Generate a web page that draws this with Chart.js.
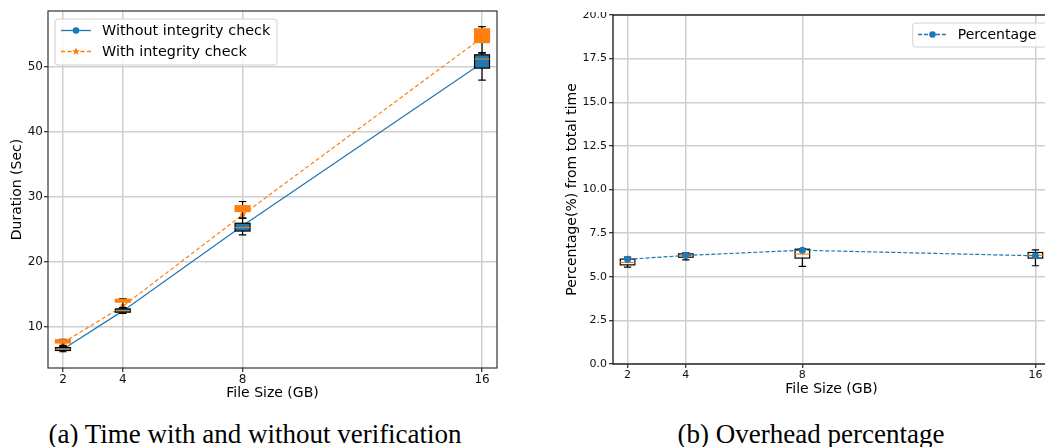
<!DOCTYPE html>
<html><head><meta charset="utf-8">
<script src="https://cdn.jsdelivr.net/npm/chart.js@4.4.1/dist/chart.umd.min.js"></script>
<style>
html,body{margin:0;padding:0;background:#fff;}
#wrap{position:relative;width:1045px;height:447px;overflow:hidden;background:#fff;}
#c1box{position:absolute;left:0;top:0;width:520px;height:410px;}
#c2box{position:absolute;left:520px;top:12px;width:525px;height:398px;overflow:hidden;}
#c2inner{position:absolute;left:0;top:-12px;width:545px;height:410px;}
.cap{position:absolute;top:419px;font-family:"Liberation Serif",serif;font-size:27px;color:#000;white-space:nowrap;transform:translateX(-50%);line-height:30px;}
</style></head><body>
<div id="wrap">
  <div id="c1box"><canvas id="c1" width="520" height="410"></canvas></div>
  <div id="c2box"><div id="c2inner"><canvas id="c2" width="545" height="410"></canvas></div></div>
  <div class="cap" style="left:255px">(a) Time with and without verification</div>
  <div class="cap" style="left:811px">(b) Overhead percentage</div>
</div>
<script>
// ---------- data ----------
const fileSizes = [2, 4, 8, 16];
const xTickValues = [2, 4, 8, 16];
const leftYTicks = [10, 20, 30, 40, 50];
const rightYTicks = [0, 2.5, 5, 7.5, 10, 12.5, 15, 17.5, 20];

const seriesLabels = ['Without integrity check', 'With integrity check'];
const withoutMean = [6.5, 12.4, 25.5, 50.6];
const withMean = [7.5, 13.1, 27.2, 54.5];

const withoutLow  = [6.1, 12.0, 24.1, 47.95];
const withoutQ1   = [6.3, 12.2, 24.7, 49.8];
const withoutMed  = [6.5, 12.45, 25.25, 51.2];
const withoutQ3   = [6.75, 12.7, 25.9, 51.85];
const withoutHigh = [6.9, 12.9, 26.7, 52.1];

const withLow  = [7.1, 12.9, 26.7, 52.2];
const withQ1   = [7.45, 13.75, 27.7, 53.74];
const withMed  = [7.7, 14.0, 28.1, 54.8];
const withQ3   = [7.95, 14.2, 28.6, 55.85];
const withHigh = [8.0, 14.3, 29.25, 56.2];

const pctLabel = 'Percentage';
const pctMean = [6.0, 6.22, 6.52, 6.2];
const pctLow  = [5.55, 5.97, 5.59, 5.63];
const pctQ1   = [5.68, 6.12, 6.07, 6.07];
const pctMed  = [5.82, 6.2, 6.3, 6.23];
const pctQ3   = [6.01, 6.31, 6.58, 6.39];
const pctHigh = [6.12, 6.37, 6.62, 6.54];

// ---------- styling ----------
const BLUE = '#1f77b4', ORANGE = '#ff7f0e';
const GRID = '#cfcfcf';
const FONT = "'DejaVu Sans', sans-serif";
const toPts = ys => fileSizes.map((x, i) => ({x: x, y: ys[i]}));

function drawBoxes(chart, boxes) {
  const ctx = chart.ctx, xs = chart.scales.x, ys = chart.scales.y;
  ctx.save();
  boxes.forEach(b => {
    fileSizes.forEach((xv, i) => {
      const xc = xs.getPixelForValue(xv);
      const hw = (xs.getPixelForValue(xv + b.width / 2) - xs.getPixelForValue(xv - b.width / 2)) / 2;
      const yl = ys.getPixelForValue(b.low[i]), y1 = ys.getPixelForValue(b.q1[i]);
      const ym = ys.getPixelForValue(b.med[i]), y3 = ys.getPixelForValue(b.q3[i]);
      const yh = ys.getPixelForValue(b.high[i]);
      ctx.strokeStyle = '#000'; ctx.lineWidth = 1.2; ctx.setLineDash([]);
      ctx.beginPath();
      ctx.moveTo(xc, y3); ctx.lineTo(xc, yh);
      ctx.moveTo(xc, y1); ctx.lineTo(xc, yl);
      ctx.moveTo(xc - hw / 2, yh); ctx.lineTo(xc + hw / 2, yh);
      ctx.moveTo(xc - hw / 2, yl); ctx.lineTo(xc + hw / 2, yl);
      ctx.stroke();
      if (b.fill) { ctx.fillStyle = b.fill; ctx.fillRect(xc - hw, y3, 2 * hw, y1 - y3); }
      ctx.strokeStyle = b.edge; ctx.lineWidth = 1.2;
      ctx.strokeRect(xc - hw, y3, 2 * hw, y1 - y3);
      ctx.strokeStyle = b.median; ctx.lineWidth = 1.2;
      ctx.beginPath(); ctx.moveTo(xc - hw, ym); ctx.lineTo(xc + hw, ym); ctx.stroke();
    });
  });
  ctx.restore();
}

function star(ctx, x, y, r) {
  ctx.beginPath();
  for (let k = 0; k < 10; k++) {
    const rr = k % 2 === 0 ? r : r * 0.42;
    const a = -Math.PI / 2 + k * Math.PI / 5;
    const px = x + rr * Math.cos(a), py = y + rr * Math.sin(a);
    if (k === 0) ctx.moveTo(px, py); else ctx.lineTo(px, py);
  }
  ctx.closePath(); ctx.fill();
}

function roundRect(ctx, x, y, w, h, r) {
  ctx.beginPath();
  ctx.moveTo(x + r, y); ctx.lineTo(x + w - r, y); ctx.arcTo(x + w, y, x + w, y + r, r);
  ctx.lineTo(x + w, y + h - r); ctx.arcTo(x + w, y + h, x + w - r, y + h, r);
  ctx.lineTo(x + r, y + h); ctx.arcTo(x, y + h, x, y + h - r, r);
  ctx.lineTo(x, y + r); ctx.arcTo(x, y, x + r, y, r); ctx.closePath();
}

function drawLegend(chart, L) {
  const ctx = chart.ctx;
  ctx.save();
  roundRect(ctx, L.x, L.y, L.w, L.h, 3);
  ctx.fillStyle = 'rgba(255,255,255,0.85)'; ctx.fill();
  ctx.strokeStyle = '#d0d0d0'; ctx.lineWidth = 1; ctx.stroke();
  chart.data.datasets.forEach((ds, i) => {
    const yy = L.rows[i];
    ctx.strokeStyle = ds.borderColor; ctx.lineWidth = 1.3;
    ctx.setLineDash(ds.borderDash || []);
    ctx.beginPath(); ctx.moveTo(L.sx0, yy); ctx.lineTo(L.sx1, yy); ctx.stroke();
    ctx.setLineDash([]);
    ctx.fillStyle = ds.borderColor;
    const mx = (L.sx0 + L.sx1) / 2;
    if (ds.legendMarker === 'star') star(ctx, mx, yy, 4.2);
    else { ctx.beginPath(); ctx.arc(mx, yy, 3.3, 0, Math.PI * 2); ctx.fill(); }
    ctx.fillStyle = '#000'; ctx.font = L.font; ctx.textBaseline = 'middle'; ctx.textAlign = 'left';
    ctx.fillText(ds.label, L.tx, yy + 0.5);
  });
  ctx.restore();
}

function framePlugin(color) {
  return {
    id: 'frame',
    afterDraw(chart) {
      const a = chart.chartArea, ctx = chart.ctx;
      ctx.save(); ctx.strokeStyle = color; ctx.lineWidth = 1.2;
      ctx.strokeRect(a.left, a.top, a.right - a.left, a.bottom - a.top);
      ctx.restore();
    }
  };
}

function xScale(titlePadBottom, tickSize, height) {
  return {
    type: 'linear', min: 1.5, max: 16.5,
    afterBuildTicks: s => { s.ticks = xTickValues.map(v => ({value: v})); },
    afterFit: s => { s.height = height; },
    ticks: {autoSkip: false, color: '#111', font: {family: FONT, size: tickSize}, padding: 1,
            callback: v => String(v)},
    grid: {color: GRID, lineWidth: 1.5, tickColor: '#000', tickLength: 4, tickWidth: 1},
    border: {display: false},
    title: {display: true, text: 'File Size (GB)', color: '#000',
            font: {family: FONT, size: 14}, padding: {top: 0, bottom: titlePadBottom}}
  };
}

// ---------- left chart ----------
new Chart(document.getElementById('c1'), {
  type: 'line',
  data: {
    datasets: [
      {label: seriesLabels[0], data: toPts(withoutMean), borderColor: BLUE, backgroundColor: BLUE,
       borderWidth: 1.2, pointRadius: 3, pointBorderWidth: 0, legendMarker: 'circle'},
      {label: seriesLabels[1], data: toPts(withMean), borderColor: ORANGE, backgroundColor: ORANGE,
       borderWidth: 1.2, borderDash: [4, 2.5], pointRadius: 2.5, pointBorderWidth: 0, legendMarker: 'star'}
    ]
  },
  options: {
    responsive: false, animation: false, devicePixelRatio: 1,
    layout: {padding: {left: 0, top: 11, right: 23, bottom: 0}},
    plugins: {legend: {display: false}, tooltip: {enabled: false}},
    scales: {
      x: xScale(8.6, 12, 42),
      y: {
        type: 'linear', min: 3.6, max: 58.6,
        afterBuildTicks: s => { s.ticks = leftYTicks.map(v => ({value: v})); },
        afterFit: s => { s.width = 48; },
        ticks: {color: '#111', font: {family: FONT, size: 12}, padding: 1},
        grid: {color: GRID, lineWidth: 1.5, tickColor: '#000', tickLength: 4, tickWidth: 1},
        border: {display: false},
        title: {display: true, text: 'Duration (Sec)', color: '#000',
                font: {family: FONT, size: 14}, padding: {top: 8.6, bottom: 0}}
      }
    }
  },
  plugins: [
    {id: 'boxesL', afterDatasetsDraw(chart) {
      drawBoxes(chart, [
        {low: withoutLow, q1: withoutQ1, med: withoutMed, q3: withoutQ3, high: withoutHigh,
         fill: BLUE, edge: '#000', median: '#d9822b', width: 0.5},
        {low: withLow, q1: withQ1, med: withMed, q3: withQ3, high: withHigh,
         fill: ORANGE, edge: ORANGE, median: ORANGE, width: 0.5}
      ]);
      drawLegend(chart, {x: 55, y: 19, w: 222, h: 46, rows: [30.5, 51.5], sx0: 61, sx1: 91, tx: 102,
                         font: "14.4px 'DejaVu Sans', sans-serif"});
    }},
    framePlugin('#333')
  ]
});

// ---------- right chart ----------
new Chart(document.getElementById('c2'), {
  type: 'line',
  data: {
    datasets: [
      {label: pctLabel, data: toPts(pctMean), borderColor: BLUE, backgroundColor: BLUE,
       borderWidth: 1.2, borderDash: [4, 2], pointRadius: 3.5, pointBorderWidth: 0, legendMarker: 'circle'}
    ]
  },
  options: {
    responsive: false, animation: false, devicePixelRatio: 1,
    layout: {padding: {left: 0, top: 15, right: 15, bottom: 0}},
    plugins: {legend: {display: false}, tooltip: {enabled: false}},
    scales: {
      x: xScale(12.6, 11, 46),
      y: {
        type: 'linear', min: 0, max: 20,
        afterBuildTicks: s => { s.ticks = rightYTicks.map(v => ({value: v})); },
        afterFit: s => { s.width = 93; },
        ticks: {color: '#111', font: {family: FONT, size: 11}, padding: 2, callback: v => Number(v).toFixed(1)},
        grid: {color: GRID, lineWidth: 1.5, tickColor: '#000', tickLength: 4, tickWidth: 1},
        border: {display: false},
        title: {display: true, text: 'Percentage(%) from total time', color: '#000',
                font: {family: FONT, size: 14}, padding: {top: 43.6, bottom: 0}}
      }
    }
  },
  plugins: [
    {id: 'boxesR', beforeDatasetsDraw(chart) {
      drawBoxes(chart, [
        {low: pctLow, q1: pctQ1, med: pctMed, q3: pctQ3, high: pctHigh,
         fill: null, edge: '#000', median: ORANGE, width: 0.5}
      ]);
    }, afterDatasetsDraw(chart) {
      drawLegend(chart, {x: 392.7, y: 23, w: 160, h: 24, rows: [34.5], sx0: 398, sx1: 427, tx: 437.7,
                         font: "14px 'DejaVu Sans', sans-serif"});
    }},
    framePlugin('#000')
  ]
});
</script>
</body></html>
